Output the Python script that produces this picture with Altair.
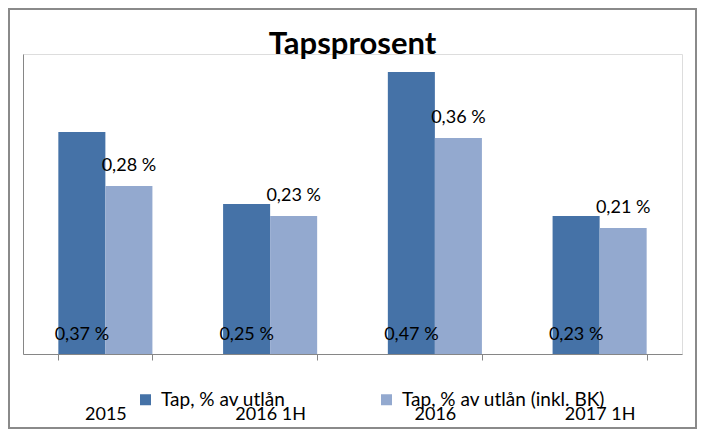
import altair as alt
import pandas as pd

categories = ["2015", "2016 1H", "2016", "2017 1H"]
series_names = ["Tap, % av utlån", "Tap, % av utlån (inkl. BK)"]
tap = [0.37, 0.25, 0.47, 0.23]
tap_bk = [0.28, 0.23, 0.36, 0.21]
colors = ["#4572A7", "#93A9CF"]

rows = []
for c, a, b in zip(categories, tap, tap_bk):
    rows.append({"cat": c, "series": series_names[0], "v": a})
    rows.append({"cat": c, "series": series_names[1], "v": b})
df = pd.DataFrame(rows)

FONT = "Lato"
GRAY = "#868686"

x_axis = alt.Axis(
    title=None, tickBand="extent", tickSize=6, tickColor=GRAY, domainColor=GRAY,
    labelAngle=0, labelFont=FONT, labelFontSize=18, labelColor="#000000",
    labelBaseline="alphabetic", labelPadding=59,
)
x_scale = alt.Scale(domain=categories, paddingInner=0.429, paddingOuter=0.2145)
xoff = alt.XOffset("series:N", scale=alt.Scale(domain=series_names))
y_scale = alt.Scale(domain=[0, 0.5])
y_axis = alt.Axis(title=None, labels=False, ticks=False, grid=False, domainColor=GRAY)

base = alt.Chart(df).transform_calculate(
    lbl="replace(format(datum.v, '.2f'), '.', ',') + ' %'"
)

bars = base.mark_bar().encode(
    x=alt.X("cat:N", scale=x_scale, axis=x_axis, sort=categories),
    xOffset=xoff,
    y=alt.Y("v:Q", scale=y_scale, axis=y_axis),
    color=alt.Color(
        "series:N",
        scale=alt.Scale(domain=series_names, range=colors),
        legend=alt.Legend(
            title=None, orient="none", direction="horizontal",
            legendX=113, legendY=336, padding=0,
            symbolType="square", symbolSize=121, symbolStrokeWidth=0,
            labelFont=FONT, labelFontSize=19, labelColor="#000000",
            labelOffset=6, columnPadding=91, labelLimit=400,
        ),
    ),
)

dark_lbl = base.transform_filter(alt.datum.series == series_names[0]).mark_text(
    font=FONT, fontSize=18, color="#000000", baseline="alphabetic", dy=-14
).encode(
    x=alt.X("cat:N", sort=categories),
    xOffset=xoff,
    y=alt.datum(0),
    text="lbl:N",
)

light_lbl = base.transform_filter(alt.datum.series == series_names[1]).mark_text(
    font=FONT, fontSize=18, color="#000000", baseline="alphabetic", dy=-15
).encode(
    x=alt.X("cat:N", sort=categories),
    xOffset=xoff,
    y=alt.Y("v:Q"),
    text="lbl:N",
)

border = alt.Chart(pd.DataFrame({"a": [0]})).mark_rect(
    fillOpacity=0, stroke="#8A8A8A", strokeWidth=2
).encode(
    x=alt.value(-14), x2=alt.value(673), y=alt.value(-45), y2=alt.value(374)
)

chart = alt.layer(bars, dark_lbl, light_lbl, border).properties(
    width=659, height=300,
    title=alt.TitleParams(
        "Tapsprosent", font=FONT, fontSize=31, fontWeight="bold",
        color="#000000", anchor="middle", offset=-53,
    ),
    padding={"left": 15, "top": 46, "right": 15, "bottom": 75},
    autosize=alt.AutoSizeParams(type="none"),
).configure_view(strokeWidth=0).configure(background="#FFFFFF")

chart.save("out.html", embed_options={"renderer": "svg", "actions": False})
